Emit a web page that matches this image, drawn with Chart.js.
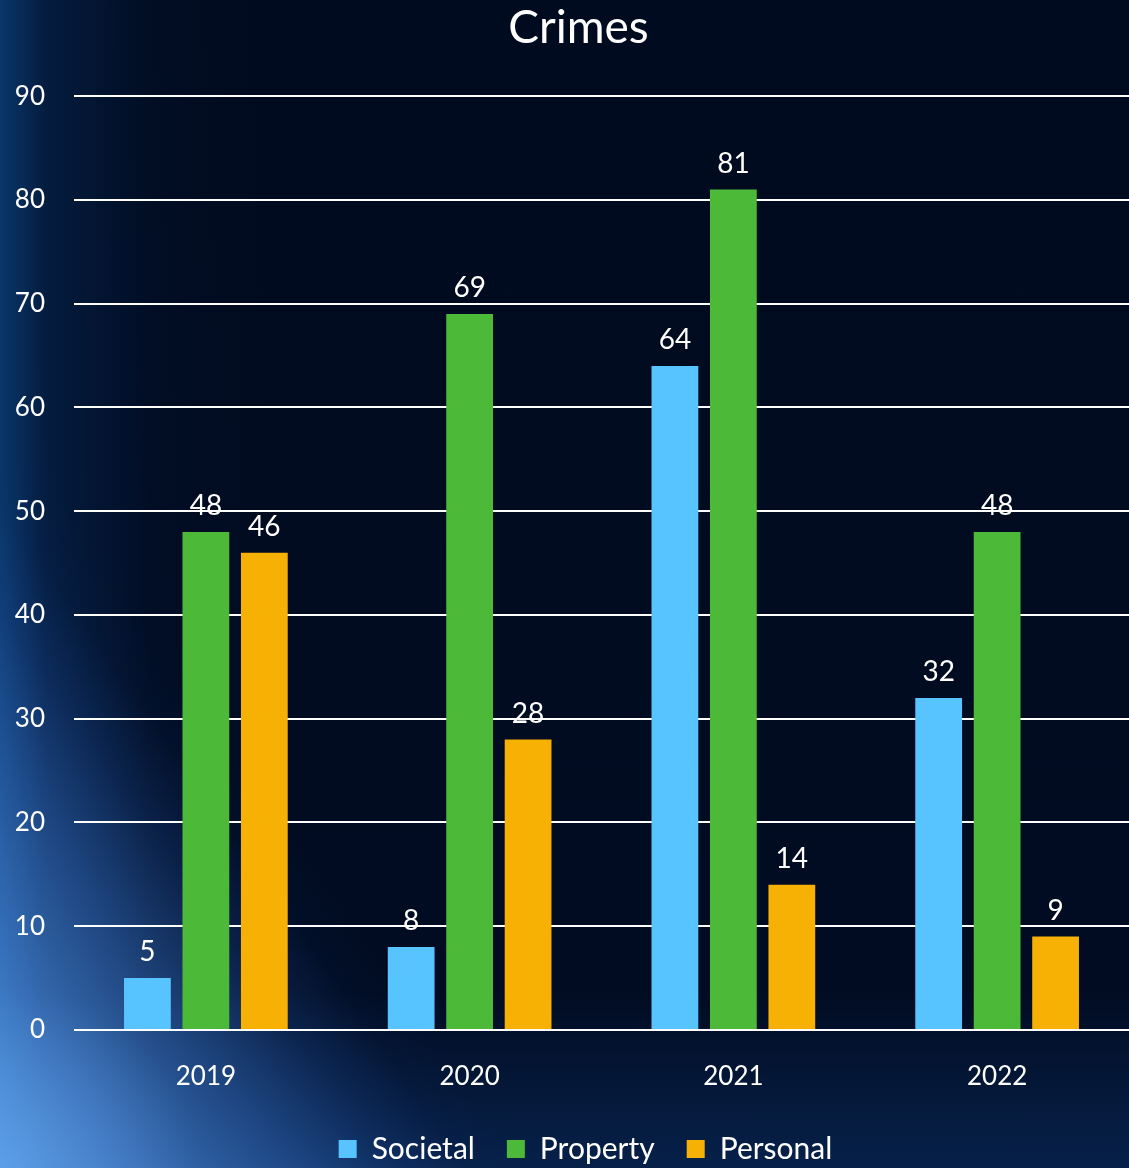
<!DOCTYPE html>
<html>
<head>
<meta charset="utf-8">
<script src="https://cdn.jsdelivr.net/npm/chart.js@4"></script>
<style>
  html, body { margin: 0; padding: 0; }
  body {
    width: 1129px; height: 1168px; overflow: hidden;
    background:
      radial-gradient(ellipse 200px 180px at 0% 100%, rgba(110,175,245,0.4), transparent 100%),
      linear-gradient(55deg, rgba(90,160,240,0.88) 0%, rgba(75,140,225,0.68) 8%, rgba(55,115,200,0.48) 15%, rgba(35,85,165,0.28) 20%, rgba(20,55,120,0.08) 24%, transparent 27%),
      linear-gradient(to right, rgba(12,65,125,0.8) 0px, rgba(8,45,95,0.5) 45px, rgba(4,25,60,0.15) 150px, transparent 260px),
      linear-gradient(to bottom, #010b1f 0%, #010c22 85%, #07214a 100%);
  }
  #wrap { position: absolute; left: 0; top: 0; width: 1129px; height: 1168px; }
</style>
</head>
<body>
<div id="wrap"><canvas id="crimes"></canvas></div>
<script>
var years = ['2019', '2020', '2021', '2022'];
var societal = [5, 8, 64, 32];
var property = [48, 69, 81, 48];
var personal = [46, 28, 14, 9];
var yTicks = [0, 10, 20, 30, 40, 50, 60, 70, 80, 90];

var fontName = 'Lato, "Open Sans", sans-serif';

// little plugin to write the values above the bars
var valueLabels = {
  id: 'valueLabels',
  afterDatasetsDraw: function(chart) {
    var ctx = chart.ctx;
    ctx.save();
    ctx.fillStyle = '#ffffff';
    ctx.font = '28px ' + fontName;
    ctx.textAlign = 'center';
    ctx.textBaseline = 'bottom';
    chart.data.datasets.forEach(function(ds, i) {
      chart.getDatasetMeta(i).data.forEach(function(bar, j) {
        ctx.fillText(ds.data[j], bar.x, bar.y - 12);
      });
    });
    ctx.restore();
  }
};

// title and legend sit a bit right of the canvas centre in the original
var nudge = {
  id: 'nudge',
  afterLayout: function(chart) {
    chart.titleBlock.left += 14; chart.titleBlock.right += 14;
    chart.legend.left += 21; chart.legend.right += 21;
  }
};

var ctx = document.getElementById('crimes');
var crimesChart = new Chart(ctx, {
  type: 'bar',
  data: {
    labels: years,
    datasets: [
      { label: 'Societal', data: societal, backgroundColor: '#57c4ff' },
      { label: 'Property', data: property, backgroundColor: '#4cb938' },
      { label: 'Personal', data: personal, backgroundColor: '#f7b004' }
    ]
  },
  options: {
    responsive: true,
    maintainAspectRatio: false,
    animation: false,
    categoryPercentage: 0.665,
    barPercentage: 0.8,
    layout: { padding: { top: 0, right: 0, bottom: -6, left: 0 } },
    plugins: {
      title: {
        display: true,
        text: 'Crimes',
        color: '#ffffff',
        font: { family: fontName, size: 46, weight: 'normal' },
        padding: { top: 1, bottom: 40 }
      },
      legend: {
        position: 'bottom',
        padding: 5,
        labels: {
          color: '#ffffff',
          font: { family: fontName, size: 30 },
          boxWidth: 18,
          boxHeight: 18,
          padding: 32
        }
      },
      tooltip: { enabled: false }
    },
    scales: {
      x: {
        afterFit: function(scale) { scale.height = 72; },
        grid: { display: false, drawTicks: false },
        border: { display: false },
        ticks: { color: '#ffffff', font: { family: fontName, size: 26 }, padding: 31 }
      },
      y: {
        min: 0,
        max: 90,
        afterFit: function(scale) { scale.width = 74; },
        afterBuildTicks: function(scale) {
          scale.ticks = yTicks.map(function(v) { return { value: v }; });
        },
        grid: { color: '#ffffff', lineWidth: 2, drawTicks: false },
        border: { display: false },
        ticks: { color: '#ffffff', font: { family: fontName, size: 26 }, padding: 29 }
      }
    }
  },
  plugins: [valueLabels, nudge]
});
</script>
</body>
</html>
